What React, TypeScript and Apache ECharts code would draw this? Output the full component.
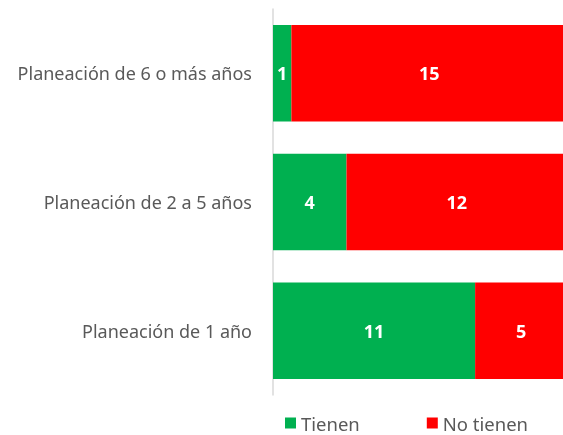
import React, { useEffect, useRef } from "react";
import * as echarts from "echarts";

const categories = ["Planeación de 1 año", "Planeación de 2 a 5 años", "Planeación de 6 o más años"];
const tienen = [11, 4, 1];
const noTienen = [5, 12, 15];
const seriesNames = ["Tienen", "No tienen"];

export default function App() {
  const ref = useRef<HTMLDivElement>(null);
  useEffect(() => {
    const chart = echarts.init(ref.current!, null, { renderer: "svg" });
    const font = "'Noto Sans', 'Open Sans', sans-serif";
    chart.setOption({
      animation: false,
      textStyle: { fontFamily: font },
      grid: { left: 273, right: 0, top: 9, bottom: 40, containLabel: false },
      legend: {
        top: 413,
        left: 285,
        padding: 0,
        itemWidth: 11,
        itemHeight: 11,
        itemGap: 67,
        icon: "rect",
        textStyle: { fontSize: 18.5, lineHeight: 20, color: "#595959", fontFamily: font },
        data: seriesNames,
      },
      xAxis: {
        type: "value",
        min: 0,
        max: 16,
        show: false,
      },
      yAxis: {
        type: "category",
        data: categories,
        axisLine: { show: true, lineStyle: { color: "#d9d9d9", width: 1.5 } },
        axisTick: { show: false },
        axisLabel: { color: "#595959", fontSize: 18, margin: 21, fontFamily: font },
      },
      series: [
        {
          name: seriesNames[0],
          type: "bar",
          stack: "total",
          data: tienen,
          barWidth: "75%",
          itemStyle: { color: "#00B050" },
          label: { show: true, position: "inside", color: "#fff", fontWeight: "bold", fontSize: 18, fontFamily: font },
        },
        {
          name: seriesNames[1],
          type: "bar",
          stack: "total",
          data: noTienen,
          barWidth: "75%",
          itemStyle: { color: "#FF0000" },
          label: { show: true, position: "inside", color: "#fff", fontWeight: "bold", fontSize: 18, fontFamily: font },
        },
      ],
    });
    return () => chart.dispose();
  }, []);
  return <div ref={ref} style={{ position: "fixed", left: 0, top: 0, width: 567, height: 435 }} />;
}
